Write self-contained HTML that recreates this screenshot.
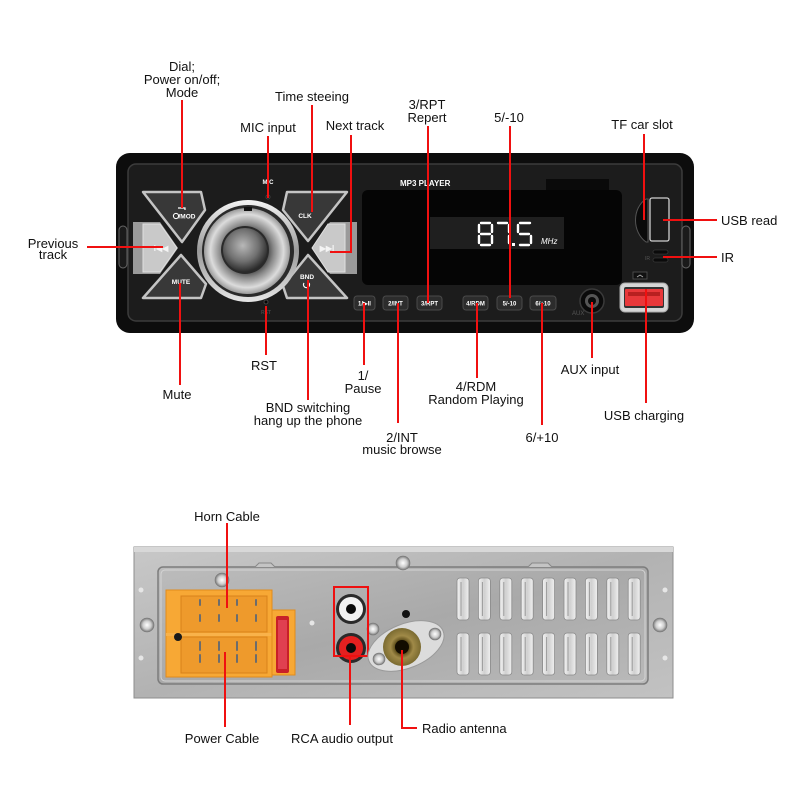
<!DOCTYPE html>
<html><head><meta charset="utf-8"><style>
html,body{margin:0;padding:0;background:#fff;}
svg{display:block;}
text{font-family:"Liberation Sans",Arial,sans-serif;}
.lbl{font-size:13px;fill:#111;text-anchor:middle;}
.lbll{font-size:13px;fill:#111;}
.bt{font-size:6px;font-weight:bold;fill:#fff;text-anchor:middle;}
.rl{stroke:#f01010;stroke-width:2;fill:none;}
</style></head><body>
<svg width="800" height="800" viewBox="0 0 800 800" xmlns="http://www.w3.org/2000/svg">
<defs>
 <linearGradient id="silver" x1="0" y1="0" x2="0" y2="1"><stop offset="0" stop-color="#f4f4f4"/><stop offset="0.5" stop-color="#9a9a9a"/><stop offset="1" stop-color="#e6e6e6"/></linearGradient>
 <radialGradient id="ring" cx="0.5" cy="0.5" r="0.5"><stop offset="0.5" stop-color="#555"/><stop offset="0.62" stop-color="#8a8a8a"/><stop offset="0.85" stop-color="#dcdcdc"/><stop offset="1" stop-color="#9a9a9a"/></radialGradient>
 <radialGradient id="knob" cx="0.45" cy="0.4" r="0.6"><stop offset="0" stop-color="#b8b8b8"/><stop offset="0.6" stop-color="#707070"/><stop offset="1" stop-color="#2a2a2a"/></radialGradient>
 <linearGradient id="metal" x1="0" y1="0" x2="1" y2="1"><stop offset="0" stop-color="#c8c8c8"/><stop offset="0.5" stop-color="#b2b2b2"/><stop offset="1" stop-color="#c2c2c2"/></linearGradient>
 <linearGradient id="plate" x1="0" y1="0" x2="1" y2="1"><stop offset="0" stop-color="#bcbcbc"/><stop offset="0.5" stop-color="#a9a9a9"/><stop offset="1" stop-color="#b9b9b9"/></linearGradient>
 <radialGradient id="screw"><stop offset="0" stop-color="#fff"/><stop offset="0.6" stop-color="#ccc"/><stop offset="1" stop-color="#777"/></radialGradient>
 <radialGradient id="brass"><stop offset="0.35" stop-color="#5a4a18"/><stop offset="0.6" stop-color="#a08a48"/><stop offset="1" stop-color="#7a6a30"/></radialGradient>
 <linearGradient id="vent" x1="0" y1="0" x2="1" y2="0"><stop offset="0" stop-color="#f2f2f2"/><stop offset="0.5" stop-color="#d0d0d0"/><stop offset="1" stop-color="#f0f0f0"/></linearGradient>
</defs>
<rect x="0" y="0" width="800" height="800" fill="#fff"/>

<!-- ===== FRONT PANEL ===== -->
<rect x="116" y="153" width="578" height="180" rx="14" fill="#0d0d0d"/>
<rect x="128" y="164" width="554" height="157" rx="8" fill="#1c1c1c" stroke="#3c3c3c" stroke-width="1.5"/>
<rect x="119" y="226" width="8" height="42" rx="4" fill="#1a1a1a" stroke="#666" stroke-width="1"/>
<rect x="682" y="226" width="8" height="42" rx="4" fill="#1a1a1a" stroke="#666" stroke-width="1"/>

<!-- X buttons left -->
<polygon points="133,222 160,222 178,248 160,274 133,274" fill="#9a9a9a"/>
<polygon points="143,224 160,224 177,248 160,272 143,272" fill="#c9c9c9" stroke="#e0e0e0" stroke-width="1"/>
<polygon points="143,192 201,192 205,210 182,242" fill="#383838" stroke="#c4c4c4" stroke-width="2.5" stroke-linejoin="round"/>
<polygon points="143,298 201,298 206,284 181,255" fill="#383838" stroke="#c4c4c4" stroke-width="2.5" stroke-linejoin="round"/>
<!-- X buttons right -->
<polygon points="357,222 330,222 312,248 330,274 357,274" fill="#9a9a9a"/>
<polygon points="345,224 328,224 312,248 328,272 345,272" fill="#c9c9c9" stroke="#e0e0e0" stroke-width="1"/>
<polygon points="347,192 287,192 283,210 308,241" fill="#383838" stroke="#c4c4c4" stroke-width="2.5" stroke-linejoin="round"/>
<polygon points="347,298 287,298 283,286 308,255" fill="#383838" stroke="#c4c4c4" stroke-width="2.5" stroke-linejoin="round"/>

<!-- dial -->
<circle cx="248" cy="251" r="51" fill="url(#silver)"/>
<circle cx="248" cy="251" r="46" fill="#2a2a2a"/>
<circle cx="247" cy="251" r="43" fill="url(#ring)"/>
<circle cx="245" cy="250" r="24" fill="#2a2a2a"/>
<circle cx="245" cy="250" r="22" fill="url(#knob)"/>
<rect x="244" y="207" width="8" height="4" fill="#111"/>

<!-- button texts -->
<circle cx="176" cy="216" r="2.6" fill="none" stroke="#fff" stroke-width="1"/>
<text x="187" y="218.5" class="bt" style="font-size:6.5px">/MOD</text>
<path d="M178 208 h7 v2" stroke="#fff" stroke-width="1.2" fill="none"/>
<text x="181" y="284" class="bt" style="font-size:6.5px">MUTE</text>
<text x="305" y="218" class="bt" style="font-size:6.5px">CLK</text>
<text x="307" y="279" class="bt" style="font-size:6.5px">BND</text>
<path d="M304 283 a3 3 0 1 0 5 0" stroke="#fff" stroke-width="1.2" fill="none"/>
<text x="161" y="251" class="bt" style="font-size:8px;fill:#f4f4f4">I◀◀</text>
<text x="327" y="251" class="bt" style="font-size:8px;fill:#f4f4f4">▶▶I</text>
<text x="268" y="184" class="bt" style="font-size:6px">MIC</text>
<circle cx="268" cy="197" r="2" fill="#050505" stroke="#444"/>
<circle cx="266" cy="302" r="2" fill="#050505" stroke="#444"/>
<text x="266" y="314" class="bt" style="font-size:5px;fill:#444">RST</text>

<!-- display -->
<text x="400" y="186" style="font-size:8px;font-weight:bold;fill:#fff">MP3 PLAYER</text>
<rect x="546" y="179" width="63" height="12" fill="#0a0a0a"/>
<rect x="362" y="190" width="260" height="95" rx="6" fill="#050505"/>
<rect x="430" y="217" width="134" height="32" fill="#1f1f1f"/>
<g stroke="#fff" stroke-width="2.4" stroke-linecap="round" fill="none">
 <!-- 8 -->
 <path d="M481 223 H490 M492 225 V232 M492 236 V243 M481 245 H490 M479 236 V243 M479 225 V232 M481 234 H490"/>
 <!-- 7 -->
 <path d="M498 223 H507 M509 225 V232 M509 236 V243"/>
 <!-- 5 -->
 <path d="M520 223 H530 M518 225 V232 M520 234 H529 M531 236 V243 M520 245 H529"/>
</g>
<rect x="512" y="243" width="3" height="3" fill="#fff"/>
<text x="541" y="244" style="font-size:8px;font-style:italic;fill:#fff">MHz</text>

<!-- bottom buttons -->
<g fill="#2c2c2c" stroke="#4a4a4a" stroke-width="1">
 <rect x="354" y="296" width="21" height="14" rx="3"/>
 <rect x="383" y="296" width="25" height="14" rx="3"/>
 <rect x="417" y="296" width="25" height="14" rx="3"/>
 <rect x="463" y="296" width="25" height="14" rx="3"/>
 <rect x="497" y="296" width="25" height="14" rx="3"/>
 <rect x="530" y="296" width="26" height="14" rx="3"/>
</g>
<text x="364.5" y="305.5" class="bt">1/▶II</text>
<text x="395.5" y="305.5" class="bt">2/INT</text>
<text x="429.5" y="305.5" class="bt">3/RPT</text>
<text x="475.5" y="305.5" class="bt">4/RDM</text>
<text x="509.5" y="305.5" class="bt">5/-10</text>
<text x="543" y="305.5" class="bt">6/+10</text>

<!-- AUX -->
<circle cx="592" cy="301" r="12" fill="#0a0a0a" stroke="#3a3a3a" stroke-width="1.5"/>
<circle cx="592" cy="301" r="7" fill="#555"/>
<circle cx="592" cy="301" r="4" fill="#0a0a0a"/>
<text x="572" y="315" style="font-size:6px;fill:#555">AUX</text>

<!-- USB charge -->
<rect x="633" y="272" width="14" height="7" fill="#111" stroke="#555" stroke-width="0.8"/>
<path d="M637 277 l3 -2 l3 2" stroke="#aaa" fill="none" stroke-width="0.8"/>
<rect x="620" y="283" width="48" height="29" rx="5" fill="#d6d6d6" stroke="#aaa"/>
<rect x="624" y="287" width="40" height="21" rx="2" fill="#333"/>
<rect x="625" y="289" width="38" height="17" rx="1" fill="#e8383a"/>
<rect x="628" y="292" width="32" height="4" fill="#b82020"/>

<!-- TF + USB read -->
<path d="M646 199 C 632 208, 632 232, 646 242 L648 242 L648 199 Z" fill="#0a0a0a" stroke="#555" stroke-width="1"/>
<rect x="650" y="198" width="19" height="43" rx="2" fill="#1a1a1a" stroke="#d0d0d0" stroke-width="1.3"/>
<text x="645" y="260" style="font-size:5px;fill:#555">IR</text>
<rect x="653" y="250" width="15" height="4" rx="2" fill="#0a0a0a" stroke="#444" stroke-width="0.6"/>
<rect x="653" y="258" width="15" height="4" rx="2" fill="#0a0a0a" stroke="#444" stroke-width="0.6"/>

<!-- ===== BACK PANEL ===== -->
<rect x="134" y="547" width="539" height="151" fill="url(#metal)" stroke="#8e8e8e" stroke-width="1"/>
<rect x="134" y="547" width="539" height="5" fill="#d8d8d8"/>
<rect x="158" y="567" width="490" height="117" rx="5" fill="url(#plate)" stroke="#7c7c7c" stroke-width="1.5"/>
<rect x="161" y="570" width="484" height="111" rx="4" fill="none" stroke="#d4d4d4" stroke-width="1"/>
<path d="M255 567 l4 -4 h12 l4 4" fill="#c4c4c4" stroke="#888"/>
<path d="M528 567 l4 -4 h16 l4 4" fill="#c4c4c4" stroke="#888"/>
<g fill="#e6e6e6"><circle cx="141" cy="590" r="2.5"/><circle cx="141" cy="658" r="2.5"/><circle cx="665" cy="590" r="2.5"/><circle cx="665" cy="658" r="2.5"/><circle cx="312" cy="623" r="2.5"/></g>

<!-- vents -->
<g fill="url(#vent)" stroke="#8a8a8a" stroke-width="0.8">
 <rect x="457" y="578" width="12" height="42" rx="3"/><rect x="478.4" y="578" width="12" height="42" rx="3"/><rect x="499.8" y="578" width="12" height="42" rx="3"/><rect x="521.2" y="578" width="12" height="42" rx="3"/><rect x="542.6" y="578" width="12" height="42" rx="3"/><rect x="564" y="578" width="12" height="42" rx="3"/><rect x="585.4" y="578" width="12" height="42" rx="3"/><rect x="606.8" y="578" width="12" height="42" rx="3"/><rect x="628.2" y="578" width="12" height="42" rx="3"/>
 <rect x="457" y="633" width="12" height="42" rx="3"/><rect x="478.4" y="633" width="12" height="42" rx="3"/><rect x="499.8" y="633" width="12" height="42" rx="3"/><rect x="521.2" y="633" width="12" height="42" rx="3"/><rect x="542.6" y="633" width="12" height="42" rx="3"/><rect x="564" y="633" width="12" height="42" rx="3"/><rect x="585.4" y="633" width="12" height="42" rx="3"/><rect x="606.8" y="633" width="12" height="42" rx="3"/><rect x="628.2" y="633" width="12" height="42" rx="3"/>
</g>
<g stroke="#9a9a9a" stroke-width="1"><path d="M461 582 V616 M482.4 582 V616 M503.8 582 V616 M525.2 582 V616 M546.6 582 V616 M568 582 V616 M589.4 582 V616 M610.8 582 V616 M632.2 582 V616 M461 637 V671 M482.4 637 V671 M503.8 637 V671 M525.2 637 V671 M546.6 637 V671 M568 637 V671 M589.4 637 V671 M610.8 637 V671 M632.2 637 V671"/></g>

<!-- orange connector -->
<rect x="166" y="590" width="106" height="87" fill="#f7a835" stroke="#e08b1c" stroke-width="1"/>
<rect x="181" y="596" width="86" height="36" fill="#ee9a2c" stroke="#d8821a" stroke-width="1"/>
<rect x="181" y="637" width="86" height="36" fill="#ee9a2c" stroke="#d8821a" stroke-width="1"/>
<rect x="166" y="633" width="106" height="3" fill="#f9b24a"/>
<circle cx="178" cy="637" r="4" fill="#1a1a1a"/>
<g stroke="#6c6c6c" stroke-width="2" stroke-linecap="round">
 <path d="M200 600 V605 M219 600 V605 M237 600 V605 M256 600 V605 M200 615 V621 M219 615 V621 M237 615 V621 M256 615 V621 M200 642 V650 M219 642 V650 M237 642 V650 M256 642 V650 M200 655 V662 M219 655 V662 M237 655 V662 M256 655 V662"/>
</g>
<rect x="272" y="610" width="23" height="65" fill="#f7a835" stroke="#e08b1c"/>
<rect x="276" y="616" width="13" height="57" rx="2" fill="#c82028"/>
<rect x="278" y="620" width="9" height="49" fill="#e04050"/>

<!-- screws -->
<g fill="url(#screw)" stroke="#777" stroke-width="0.6">
 <circle cx="147" cy="625" r="7"/><circle cx="222" cy="580" r="7"/><circle cx="403" cy="563" r="7"/><circle cx="660" cy="625" r="7"/><circle cx="373" cy="629" r="6"/>
</g>

<!-- RCA -->
<circle cx="351" cy="609" r="15" fill="#2a2a2a"/>
<circle cx="351" cy="609" r="12" fill="#f2f2f2"/>
<circle cx="351" cy="609" r="5" fill="#0a0a0a"/>
<circle cx="351" cy="648" r="15" fill="#2a2a2a"/>
<circle cx="351" cy="648" r="12" fill="#e42020"/>
<circle cx="351" cy="648" r="5" fill="#0a0a0a"/>
<rect x="334" y="587" width="34" height="69" fill="none" stroke="#ee1010" stroke-width="2"/>

<!-- antenna -->
<circle cx="406" cy="614" r="4" fill="#111"/>
<ellipse cx="406" cy="646" rx="40" ry="22" transform="rotate(-22 406 646)" fill="#dcdcdc" stroke="#9a9a9a"/>
<circle cx="379" cy="659" r="6" fill="url(#screw)" stroke="#777" stroke-width="0.6"/>
<circle cx="435" cy="634" r="6" fill="url(#screw)" stroke="#777" stroke-width="0.6"/>
<circle cx="402" cy="647" r="19" fill="url(#brass)"/>
<circle cx="402" cy="647" r="7" fill="#120c00"/>

<!-- ===== RED LINES ===== -->
<g class="rl">
 <path d="M182 100 V208"/>
 <path d="M312 105 V212"/>
 <path d="M268 136 V198"/>
 <path d="M351 135 V252 H330"/>
 <path d="M87 247 H163"/>
 <path d="M428 126 V303"/>
 <path d="M510 126 V298"/>
 <path d="M644 134 V220"/>
 <path d="M663 220 H717"/>
 <path d="M663 257 H717"/>
 <path d="M180 283 V385"/>
 <path d="M266 306 V355"/>
 <path d="M308 280 V400"/>
 <path d="M364 303 V365"/>
 <path d="M398 303 V423"/>
 <path d="M477 303 V378"/>
 <path d="M542 303 V425"/>
 <path d="M592 302 V358"/>
 <path d="M646 289 V403"/>
 <path d="M227 523 V608"/>
 <path d="M225 652 V727"/>
 <path d="M350 656 V725"/>
 <path d="M402 650 V728 H417"/>
</g>

<!-- ===== LABELS ===== -->
<text class="lbl" x="182" y="71">Dial;</text>
<text class="lbl" x="182" y="84">Power on/off;</text>
<text class="lbl" x="182" y="97">Mode</text>
<text class="lbl" x="312" y="101">Time steeing</text>
<text class="lbl" x="268" y="132">MIC input</text>
<text class="lbl" x="355" y="130">Next track</text>
<text class="lbl" x="427" y="109">3/RPT</text>
<text class="lbl" x="427" y="122">Repert</text>
<text class="lbl" x="509" y="122">5/-10</text>
<text class="lbl" x="642" y="129">TF car slot</text>
<text class="lbl" x="53" y="248">Previous</text>
<text class="lbl" x="53" y="259">track</text>
<text class="lbll" x="721" y="225">USB read</text>
<text class="lbll" x="721" y="262">IR</text>
<text class="lbl" x="177" y="399">Mute</text>
<text class="lbl" x="264" y="370">RST</text>
<text class="lbl" x="308" y="412">BND switching</text>
<text class="lbl" x="308" y="425">hang up the phone</text>
<text class="lbl" x="363" y="380">1/</text>
<text class="lbl" x="363" y="393">Pause</text>
<text class="lbl" x="402" y="442">2/INT</text>
<text class="lbl" x="402" y="454">music browse</text>
<text class="lbl" x="476" y="391">4/RDM</text>
<text class="lbl" x="476" y="404">Random Playing</text>
<text class="lbl" x="542" y="442">6/+10</text>
<text class="lbl" x="590" y="374">AUX input</text>
<text class="lbl" x="644" y="420">USB charging</text>
<text class="lbl" x="227" y="521">Horn Cable</text>
<text class="lbl" x="222" y="743">Power Cable</text>
<text class="lbl" x="342" y="743">RCA audio output</text>
<text class="lbll" x="422" y="733">Radio antenna</text>
</svg>
</body></html>
